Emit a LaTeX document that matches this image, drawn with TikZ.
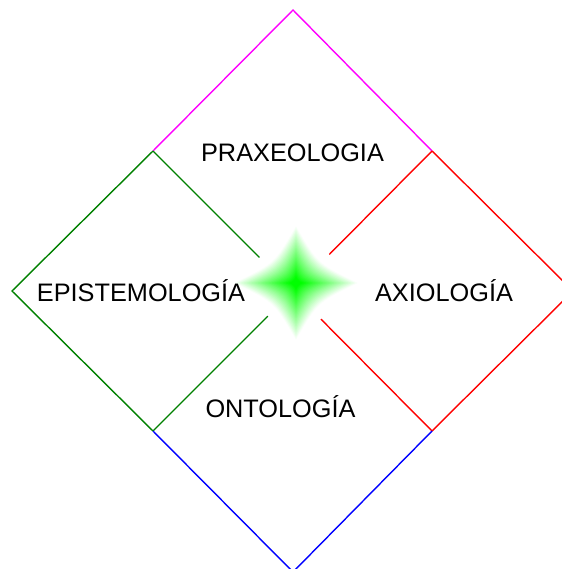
\documentclass[tikz,border=0pt]{standalone}
\usepackage{fontspec}
\setmainfont{Liberation Sans}
\usetikzlibrary{calc}
\definecolor{dgreen}{RGB}{0,128,0}
\definecolor{bgreen}{RGB}{0,255,0}
\definecolor{mag}{RGB}{255,0,255}
\begin{document}
\begin{tikzpicture}[x=1pt,y=-1pt,
  edge/.style={line width=1.4pt},
  lbl/.style={font=\fontsize{25.3}{30}\selectfont, inner sep=0pt, anchor=base}]
\useasboundingbox (0,0) rectangle (561,569);
% vertices
\coordinate (T) at (293,10);
\coordinate (L) at (12,291);
\coordinate (R) at (573,291);
\coordinate (B) at (293,572);
\coordinate (TL) at (153,151);
\coordinate (TR) at (432,151);
\coordinate (BL) at (153,431);
\coordinate (BR) at (432,431);
\coordinate (C) at (293,291);
% edges
\draw[edge,mag] (TL) -- (T) -- (TR);
\draw[edge,dgreen] (TL) -- (L) -- (BL);
\draw[edge,dgreen] (TL) -- (C) (BL) -- (C);
\draw[edge,red] (TR) -- (R) -- (BR);
\draw[edge,red] (TR) -- (C) (BR) -- (C);
\draw[edge,blue] (BL) -- (B) -- (BR);
% glow
\coordinate (G) at (296,283);
\fill[white] ($(G)+(-64,0)$) -- ($(G)+(0,-59)$) -- ($(G)+(64,0)$) -- ($(G)+(0,59)$) -- cycle;
\foreach \i in {0,...,44}{
  \pgfmathsetmacro{\s}{1-\i/45}
  \pgfmathtruncatemacro{\p}{min(100,112*\i/45)}
  \begin{scope}[shift={(G)},scale=\s]
    \fill[bgreen!\p!white] (63,0) .. controls (22,20) .. (0,58) .. controls (-22,20) .. (-63,0)
      .. controls (-22,-20) .. (0,-58) .. controls (22,-20) .. cycle;
  \end{scope}
}
% labels
\node[lbl] (prax) at (292.5,161.5) {PRAXEOLOGIA};
\node[lbl] (epis) at (141,301.5) {EPISTEMOLOGÍA};
\node[lbl] (axio) at (444,301.5) {AXIOLOGÍA};
\node[lbl] (onto) at (280.5,417.5) {ONTOLOGÍA};
\end{tikzpicture}
\end{document}
